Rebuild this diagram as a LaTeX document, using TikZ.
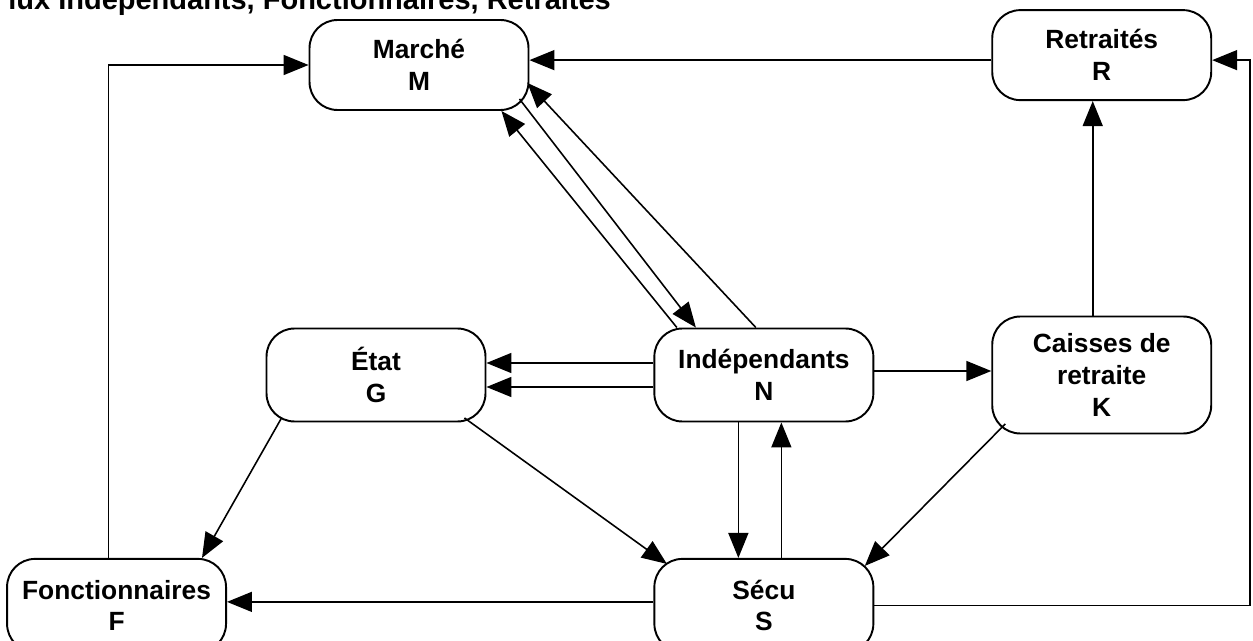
\documentclass[tikz,border=0pt]{standalone}
\usepackage{fontspec}
\setmainfont{Liberation Sans}
\usepackage{tikz}
\usetikzlibrary{positioning}
\usetikzlibrary{arrows.meta, calc}
\tikzset{
    acteur/.style={draw, rectangle, rounded corners=0.56cm, line width=1.1pt, minimum height=1.86cm, minimum width=4.38cm, align=center, inner sep=0pt, font=\bfseries\fontsize{15}{18}\selectfont},
    titre/.style={anchor=base west, inner sep=0pt, font=\bfseries\fontsize{16.5}{19}\selectfont},
    flux/.style={line width=0.9pt, -{Triangle[length=0.5cm, width=0.4cm]}}
}
\begin{document}
\begin{tikzpicture}[x=0.02cm, y=-0.02cm]

\useasboundingbox (0,0) rectangle (1253,641);
\clip (0,0) rectangle (1253,641);

\node [titre]                                                  (titre)     at (8,10)    {lux Indépendants, Fonctionnaires, Retraités};
\node [acteur, minimum height=1.8cm]                           (marche)    at (419,65)  {Marché\\M};
\node [acteur]                                                 (etat)      at (376,375) {État\\G};
\node [acteur, right=3.34cm of etat]                           (indep)                  {Indépendants\\N};
\node [acteur, minimum height=2.34cm, right=2.34cm of indep]   (caisses)                {Caisses de\\retraite\\K};
\node [acteur, minimum height=1.8cm, above=4.29cm of caisses]  (retraites)              {Retraités\\R};
\node [acteur, below=2.71cm of indep]                          (secu)                   {Sécu\\S};
\node [acteur, left=8.53cm of secu]                            (fonct)                  {Fonctionnaires\\F};

\draw [flux] ([xshift=-0.16cm]fonct.north) |- (marche.west);
\draw [flux] ([yshift=-0.1cm]retraites.west) -- ([yshift=-0.1cm]retraites.west -| marche.east);
\draw [flux] ([xshift=-1.74cm]indep.north) -- ([xshift=-0.56cm]marche.south east);
\draw [flux] ([xshift=-0.2cm,yshift=0.24cm]marche.south east) -- ([xshift=-1.36cm]indep.north);
\draw [flux] ([xshift=-0.16cm]indep.north) -- ([xshift=-0.04cm,yshift=0.56cm]marche.south east);
\draw [flux] ([yshift=0.24cm]indep.west) -- ([yshift=0.24cm]etat.east);
\draw [flux] ([yshift=-0.24cm]indep.west) -- ([yshift=-0.24cm]etat.east);
\draw [flux] ([yshift=0.08cm]indep.east) -- ([yshift=0.08cm]caisses.west);
\draw [flux] ([xshift=-0.18cm]caisses.north) -- ([xshift=-0.18cm]retraites.south);
\draw [flux] ([xshift=0.32cm,yshift=0.09cm]etat.south west) -- ([xshift=-0.5cm]fonct.north east);
\draw [flux] ([xshift=-0.44cm,yshift=0.09cm]etat.south east) -- ([xshift=0.27cm,yshift=-0.12cm]secu.north west);
\draw [flux] ([xshift=-0.51cm]indep.south) -- ([xshift=-0.51cm]secu.north);
\draw [flux] ([xshift=0.35cm]secu.north) -- ([xshift=0.35cm]indep.south);
\draw [flux] ([xshift=0.28cm,yshift=0.21cm]caisses.south west) -- ([xshift=-0.19cm,yshift=-0.16cm]secu.north east);
\draw [flux] ([yshift=0.07cm]secu.west) -- ([yshift=0.07cm]fonct.east);
\draw [flux] (secu.east) -| ([xshift=0.76cm,yshift=-0.1cm]retraites.east) -- ([yshift=-0.1cm]retraites.east);

\end{tikzpicture}
\end{document}
